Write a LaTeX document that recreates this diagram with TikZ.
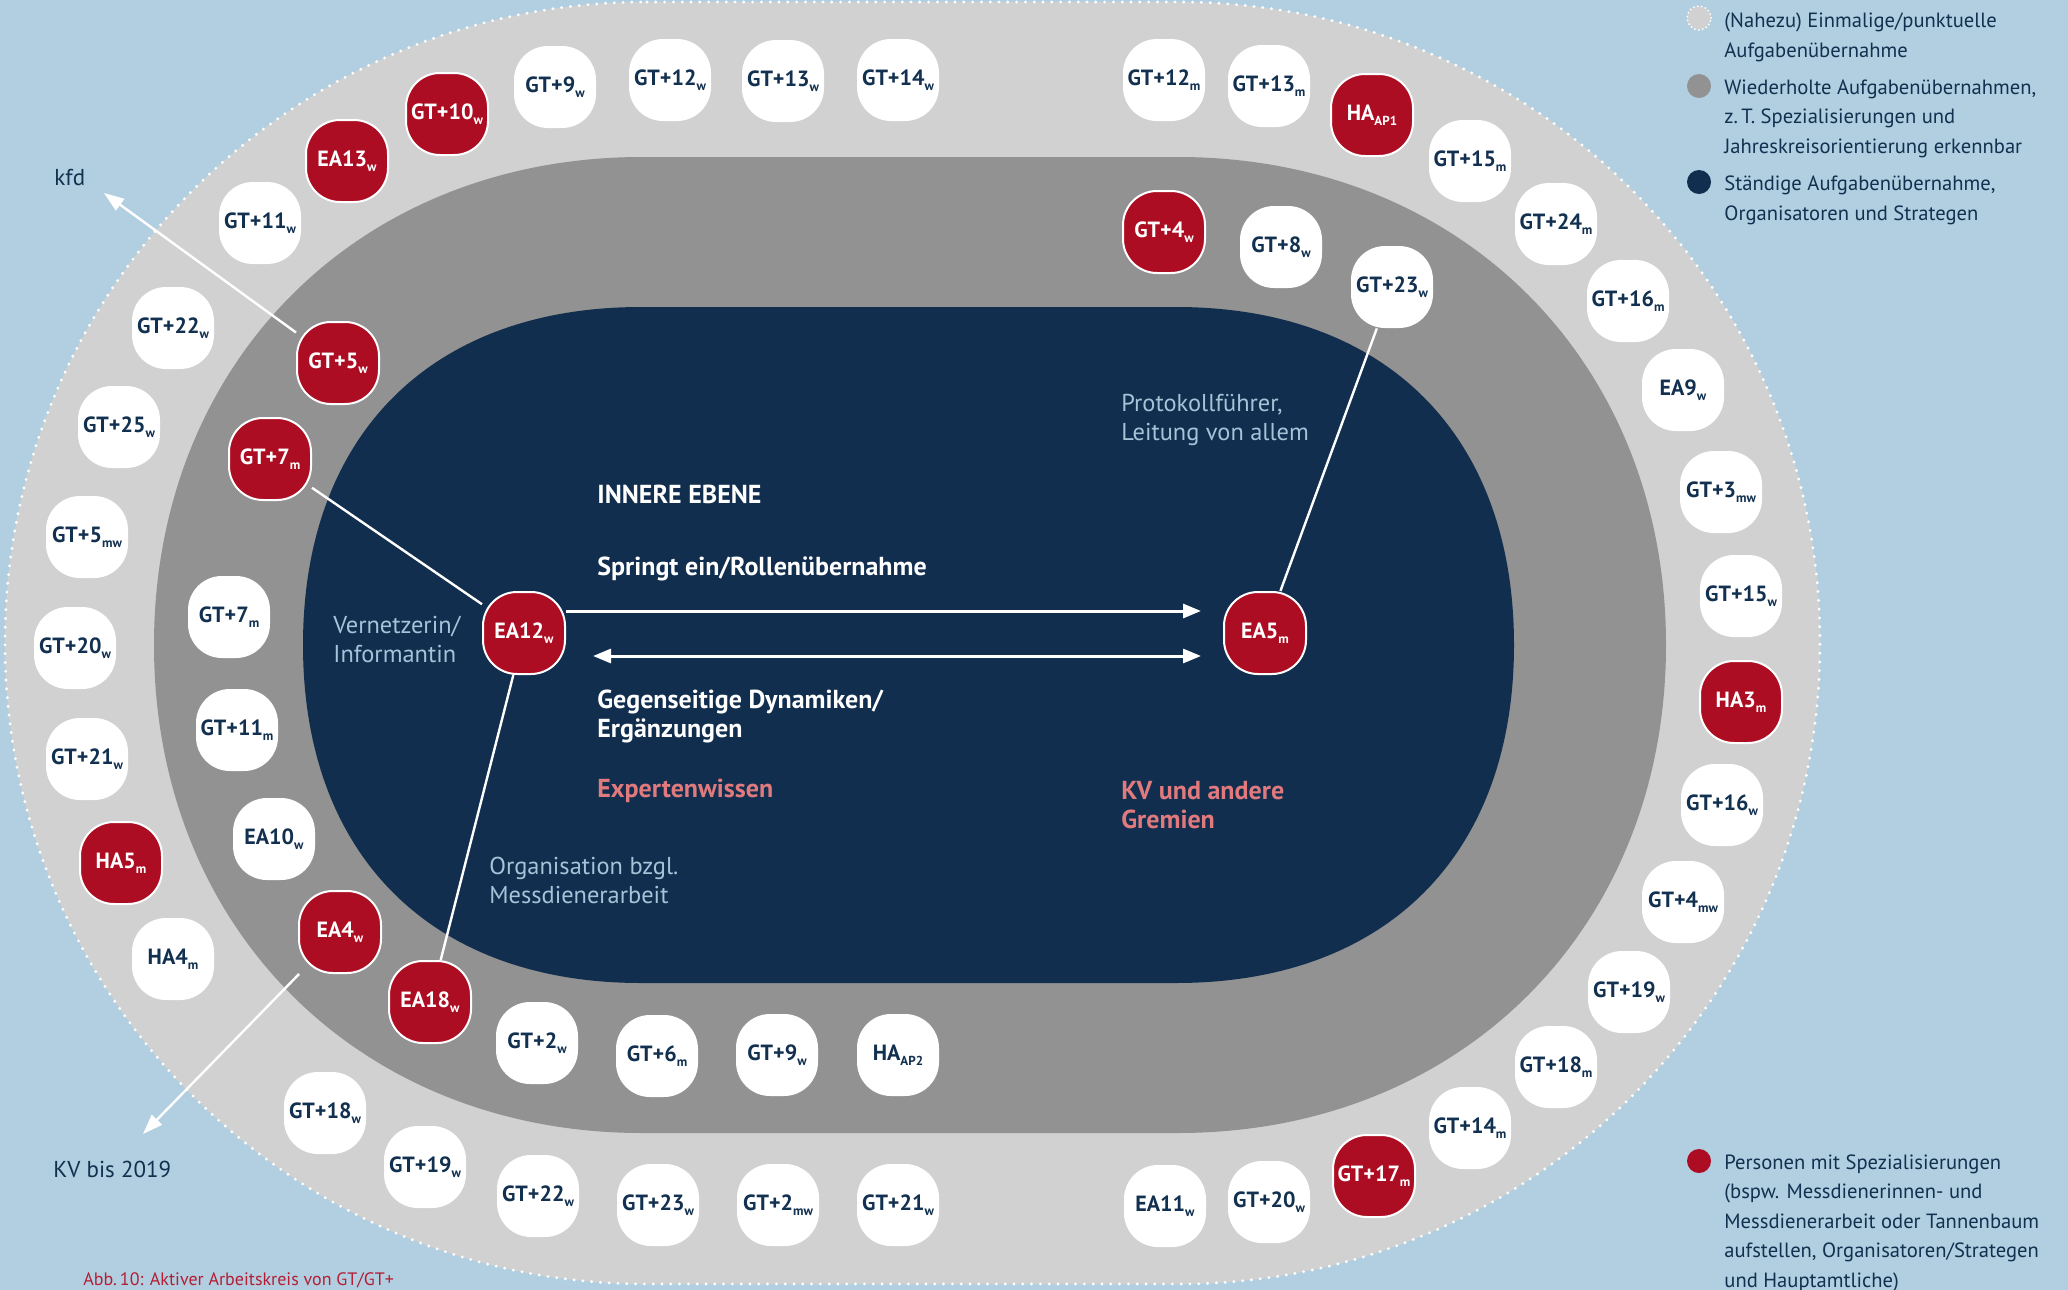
\documentclass[tikz,border=0pt]{standalone}
\usepackage{fontspec}
\setmainfont{PT Sans}
\usetikzlibrary{arrows.meta}

\definecolor{bgblue}{HTML}{B1CFE0}
\definecolor{ringlight}{HTML}{D0D1D0}
\definecolor{ringmid}{HTML}{919291}
\definecolor{coreblue}{HTML}{112E4F}
\definecolor{spezred}{HTML}{AD0D22}
\definecolor{labelblue}{HTML}{12304F}
\definecolor{paleblue}{HTML}{A6C3D8}
\definecolor{pinktxt}{HTML}{E07A7D}
\definecolor{captred}{HTML}{B41E35}

\newcommand{\lo}[1]{\raisebox{-2.5pt}{\fontsize{6.5pt}{6.5pt}\selectfont #1}}

\tikzset{
  pers/.style={rectangle, rounded corners=17pt, minimum width=41pt, minimum height=41pt,
    inner sep=0pt, fill=white, text=labelblue, font=\bfseries\fontsize{11pt}{13pt}\selectfont},
  spez/.style={pers, fill=spezred, draw=white, line width=1pt, text=white},
  tie/.style={draw=white, line width=1.2pt},
  flow/.style={draw=white, line width=1.5pt},
  txt/.style={anchor=base west, inner sep=0pt, align=left, font=\fontsize{11.5pt}{14.5pt}\selectfont},
  boldtxt/.style={txt, font=\bfseries\fontsize{13pt}{14.5pt}\selectfont},
  softtxt/.style={txt, text=paleblue, font=\fontsize{12.2pt}{14.5pt}\selectfont},
  legtxt/.style={anchor=base west, inner sep=0pt, align=left, text=labelblue,
    font=\fontsize{10.3pt}{14.7pt}\selectfont},
  legdot/.style={circle, minimum size=12pt, inner sep=0pt},
}

\begin{document}
\begin{tikzpicture}[x=0.5pt, y=-0.5pt]
\useasboundingbox (0,0) rectangle (2068,1290);
\fill[bgblue] (0,0) rectangle (2068,1290);

% rings
\path[fill=ringlight, draw=white, line width=1.6pt, dash pattern=on 0pt off 4.4pt, line cap=round]
  (647,2) -- (1178,2) .. controls (1532,2) and (1820,289) .. (1820,643)
  .. controls (1820,997) and (1532,1284) .. (1178,1284) -- (647,1284)
  .. controls (293,1284) and (5,997) .. (5,643) .. controls (5,289) and (293,2) .. (647,2) -- cycle;
\fill[ringmid]
  (642,157) -- (1178,157) .. controls (1461,157) and (1666,362) .. (1666,645)
  .. controls (1666,928) and (1461,1133) .. (1178,1133) -- (642,1133)
  .. controls (359,1133) and (154,928) .. (154,645) .. controls (154,362) and (359,157) .. (642,157) -- cycle;
\fill[coreblue]
  (641,307) -- (1176,307) .. controls (1386,307) and (1514,435) .. (1514,645)
  .. controls (1514,855) and (1386,983) .. (1176,983) -- (641,983)
  .. controls (431,983) and (303,855) .. (303,645) .. controls (303,435) and (431,307) .. (641,307) -- cycle;

% outer ring
\node[pers] (gt9wa) at (555,87) {GT+9\lo{w}};
\node[pers] (gt12w) at (670,80) {GT+12\lo{w}};
\node[pers] (gt13w) at (783,81) {GT+13\lo{w}};
\node[pers] (gt14w) at (898,80) {GT+14\lo{w}};
\node[pers] (gt12m) at (1164,80) {GT+12\lo{m}};
\node[pers] (gt13m) at (1269,86) {GT+13\lo{m}};
\node[spez] (haap1) at (1372,115) {HA\lo{AP1}};
\node[pers] (gt15m) at (1470,161) {GT+15\lo{m}};
\node[pers] (gt24m) at (1556,224) {GT+24\lo{m}};
\node[pers] (gt16m) at (1628,301) {GT+16\lo{m}};
\node[pers] (ea9w) at (1683,390) {EA9\lo{w}};
\node[pers] (gt3mw) at (1721,492) {GT+3\lo{mw}};
\node[pers] (gt15w) at (1741,596) {GT+15\lo{w}};
\node[spez] (ha3m) at (1741,702) {HA3\lo{m}};
\node[pers] (gt16w) at (1722,805) {GT+16\lo{w}};
\node[pers] (gt4mw) at (1683,902) {GT+4\lo{mw}};
\node[pers] (gt19wb) at (1629,992) {GT+19\lo{w}};
\node[pers] (gt18m) at (1556,1067) {GT+18\lo{m}};
\node[pers] (gt14m) at (1470,1128) {GT+14\lo{m}};
\node[spez] (gt17m) at (1374,1176) {GT+17\lo{m}};
\node[pers] (gt20wb) at (1269,1202) {GT+20\lo{w}};
\node[pers] (ea11w) at (1165,1206) {EA11\lo{w}};
\node[pers] (gt21wb) at (898,1205) {GT+21\lo{w}};
\node[pers] (gt2mw) at (778,1205) {GT+2\lo{mw}};
\node[pers] (gt23wb) at (658,1205) {GT+23\lo{w}};
\node[pers] (gt22wb) at (538,1196) {GT+22\lo{w}};
\node[pers] (gt19wa) at (425,1167) {GT+19\lo{w}};
\node[pers] (gt18w) at (325,1113) {GT+18\lo{w}};
\node[pers] (ha4m) at (173,959) {HA4\lo{m}};
\node[spez] (ha5m) at (121,863) {HA5\lo{m}};
\node[pers] (gt21wa) at (87,759) {GT+21\lo{w}};
\node[pers] (gt20wa) at (75,648) {GT+20\lo{w}};
\node[pers] (gt5mw) at (87,537) {GT+5\lo{mw}};
\node[pers] (gt25w) at (119,427) {GT+25\lo{w}};
\node[pers] (gt22wa) at (173,328) {GT+22\lo{w}};
\node[pers] (gt11w) at (260,223) {GT+11\lo{w}};
\node[spez] (ea13w) at (347,161) {EA13\lo{w}};
\node[spez] (gt10w) at (447,114) {GT+10\lo{w}};

% middle ring
\node[spez] (gt4w) at (1164,232) {GT+4\lo{w}};
\node[pers] (gt8w) at (1281,247) {GT+8\lo{w}};
\node[pers] (gt23wa) at (1392,287) {GT+23\lo{w}};
\node[spez] (gt5w) at (338,363) {GT+5\lo{w}};
\node[spez] (gt7mr) at (270,459) {GT+7\lo{m}};
\node[pers] (gt7m) at (229,617) {GT+7\lo{m}};
\node[pers] (gt11m) at (237,730) {GT+11\lo{m}};
\node[pers] (ea10w) at (274,839) {EA10\lo{w}};
\node[spez] (ea4w) at (340,932) {EA4\lo{w}};
\node[spez] (ea18w) at (430,1002) {EA18\lo{w}};
\node[pers] (gt2w) at (537,1043) {GT+2\lo{w}};
\node[pers] (gt6m) at (657,1056) {GT+6\lo{m}};
\node[pers] (gt9wb) at (777,1055) {GT+9\lo{w}};
\node[pers] (haap2) at (898,1055) {HA\lo{AP2}};

% inner level
\node[spez] (ea12w) at (524,633) {EA12\lo{w}};
\node[spez] (ea5m) at (1265,633) {EA5\lo{m}};

\draw[tie] (gt7mr) -- (ea12w);
\draw[tie] (ea12w) -- (ea18w);
\draw[tie] (ea5m) -- (gt23wa);
\draw[flow, -{Triangle[length=9pt,width=7pt]}, shorten >=11pt]
  ([yshift=11pt]ea12w.east) -- ([yshift=11pt]ea5m.west);
\draw[flow, {Triangle[length=9pt,width=7pt]}-{Triangle[length=9pt,width=7pt]}, shorten <=13.5pt, shorten >=11pt]
  ([yshift=-11.5pt]ea12w.east) -- ([yshift=-11.5pt]ea5m.west);

\node[boldtxt, text=white] (innere) at (597,503) {INNERE EBENE};
\node[boldtxt, text=white] (springt) at (597,575) {Springt ein/Rollenübernahme};
\node[boldtxt, text=white] (dynamik) at (597,737) {Gegenseitige Dynamiken/\\Ergänzungen};
\node[boldtxt, text=pinktxt] (experten) at (597,797) {Expertenwissen};
\node[boldtxt, text=pinktxt] (gremien) at (1121,828) {KV und andere\\Gremien};
\node[softtxt] (protokoll) at (1121,440) {Protokollführer,\\Leitung von allem};
\node[softtxt] (vernetz) at (333,662) {Vernetzerin/\\Informantin};
\node[softtxt] (orga) at (489,903) {Organisation bzgl.\\Messdienerarbeit};

% outside
\coordinate (kfdtip) at (104,193);
\coordinate (kvtip) at (143,1134);
\draw[tie, -{Triangle[length=10pt,width=7pt]}] (gt5w) -- (kfdtip);
\draw[tie, -{Triangle[length=10pt,width=7pt]}] (ea4w) -- (kvtip);
\node[txt, text=labelblue] (kfd) at (54,185) {kfd};
\node[txt, text=labelblue] (kv) at (53,1177) {KV bis 2019};
\node[txt, text=captred, font=\fontsize{9pt}{10pt}\selectfont] (caption) at (83,1285) {Abb.\,10: Aktiver Arbeitskreis von GT/GT+};

% legend
\node[legdot, fill=ringlight, draw=white, line width=1pt, dash pattern=on 0pt off 2pt, line cap=round] (dot1) at (1699,18) {};
\node[legtxt] (leg1) at (1724,57) {(Nahezu) Einmalige/punktuelle\\Aufgabenübernahme};
\node[legdot, fill=ringmid] (dot2) at (1699,86) {};
\node[legtxt] (leg2) at (1724,153) {Wiederholte Aufgabenübernahmen,\\z.\,T. Spezialisierungen und\\Jahreskreisorientierung erkennbar};
\node[legdot, fill=coreblue] (dot3) at (1699,182) {};
\node[legtxt] (leg3) at (1724,220) {Ständige Aufgabenübernahme,\\Organisatoren und Strategen};
\node[legdot, fill=spezred] (dot4) at (1699,1161) {};
\node[legtxt] (leg4) at (1724,1287) {Personen mit Spezialisierungen\\(bspw. Messdienerinnen- und\\Messdienerarbeit oder Tannenbaum\\aufstellen, Organisatoren/Strategen\\und Hauptamtliche)};
\end{tikzpicture}
\end{document}
